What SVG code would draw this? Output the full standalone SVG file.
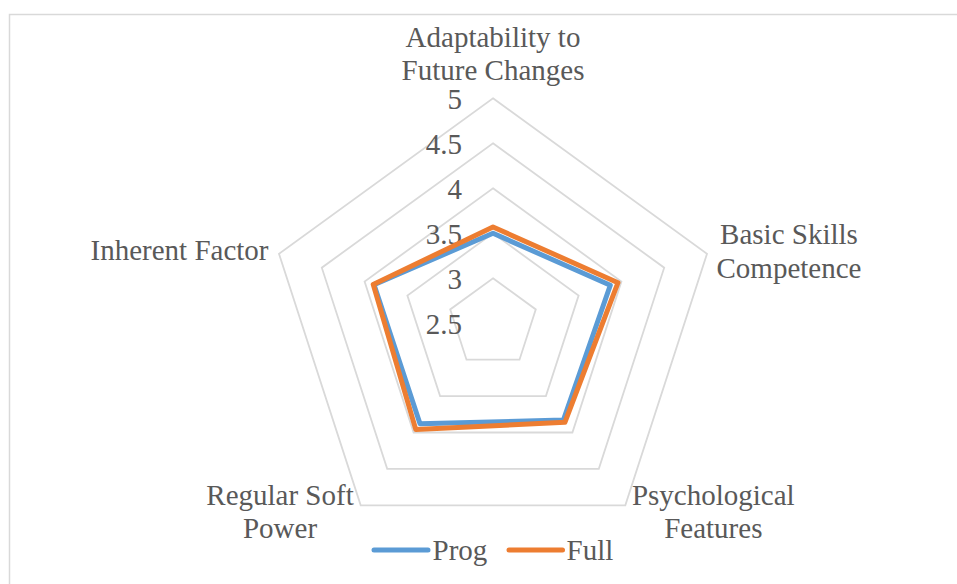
<svg xmlns="http://www.w3.org/2000/svg" width="957" height="584" viewBox="0 0 957 584">
<style>
text{font-family:"Liberation Serif","Times New Roman",serif;font-size:29px;fill:#595959}
.grid{fill:none;stroke:#D9D9D9;stroke-width:1.8}
.ser{fill:none;stroke-width:5;stroke-linejoin:round;stroke-linecap:round}
.prog{stroke:#5B9BD5}
.full{stroke:#ED7D31}
.tick{text-anchor:end}
.mid{text-anchor:middle}
</style>
<rect x="0" y="0" width="957" height="584" fill="#FFFFFF"/>
<rect x="9.5" y="14.5" width="960" height="590" fill="none" stroke="#D9D9D9" stroke-width="1.5"/>
<g id="grid">
<polygon class="grid" points="493,98.3 707,253.8 625.3,505.3 360.7,505.3 279,253.8"/>
<polygon class="grid" points="493,143.3 664.2,267.7 598.8,468.9 387.2,468.9 321.8,267.7"/>
<polygon class="grid" points="493,188.3 621.4,281.6 572.4,432.5 413.6,432.5 364.6,281.6"/>
<polygon class="grid" points="493,233.3 578.6,295.5 545.9,396.1 440.1,396.1 407.4,295.5"/>
<polygon class="grid" points="493,278.3 535.8,309.4 519.5,359.7 466.5,359.7 450.2,309.4"/>
</g>
<g id="ticks">
<text class="tick" x="462" y="108.5">5</text>
<text class="tick" x="462" y="153.5">4.5</text>
<text class="tick" x="462" y="198.5">4</text>
<text class="tick" x="462" y="243.5">3.5</text>
<text class="tick" x="462" y="288.5">3</text>
<text class="tick" x="462" y="333.5">2.5</text>
</g>
<g id="connectors">
<polygon id="series-prog" class="ser prog" points="493,233.3 610.3,285.2 563.4,420.1 420,423.8 374,284.6"/>
<polygon id="series-full" class="ser full" points="493,227 618,282.7 564.9,422.3 415.8,429.6 373.2,284.4"/>
</g>
<g id="node-adaptability">
<text class="mid" x="493" y="46.7">Adaptability to</text>
<text class="mid" x="493" y="80">Future Changes</text>
</g>
<g id="node-basic">
<text class="mid" x="789" y="244">Basic Skills</text>
<text class="mid" x="789" y="278">Competence</text>
</g>
<g id="node-psych">
<text class="mid" x="713.3" y="505">Psychological</text>
<text class="mid" x="713.3" y="538">Features</text>
</g>
<g id="node-soft">
<text class="mid" x="280" y="505">Regular Soft</text>
<text class="mid" x="280" y="538">Power</text>
</g>
<g id="node-inherent">
<text x="268.5" y="260" text-anchor="end">Inherent Factor</text>
</g>
<g id="legend">
<line class="ser prog" x1="374" y1="550" x2="428" y2="550"/>
<text x="432.5" y="560">Prog</text>
<line class="ser full" x1="509" y1="550" x2="562.5" y2="550"/>
<text x="566.5" y="560">Full</text>
</g>
</svg>
